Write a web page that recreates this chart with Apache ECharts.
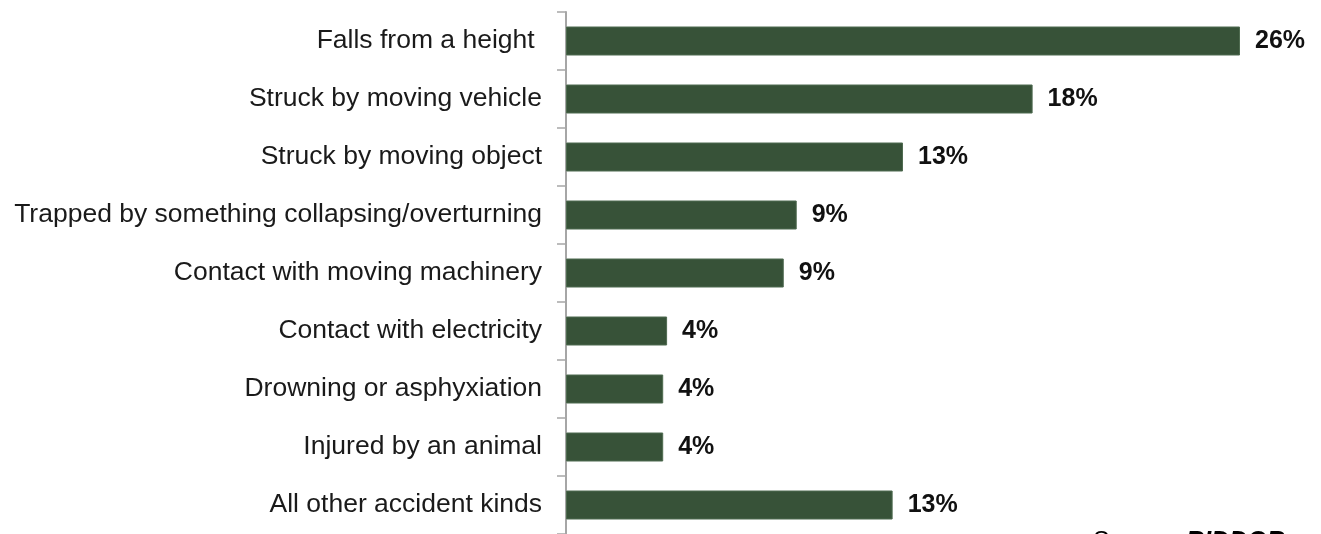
<!DOCTYPE html>
<html>
<head>
<meta charset="utf-8">
<script src="https://cdn.jsdelivr.net/npm/echarts@6/dist/echarts.min.js"></script>
<style>
html,body{margin:0;padding:0;background:#fff;}
#c{width:1321px;height:534px;}
</style>
</head>
<body>
<div id="c"></div>
<script>
var categories = [
  "Falls from a height ",
  "Struck by moving vehicle",
  "Struck by moving object",
  "Trapped by something collapsing/overturning",
  "Contact with moving machinery",
  "Contact with electricity",
  "Drowning or asphyxiation",
  "Injured by an animal",
  "All other accident kinds"
];
var values = [26.0, 18.0, 13.0, 8.9, 8.4, 3.9, 3.75, 3.75, 12.6];
var valueLabels = ["26%", "18%", "13%", "9%", "9%", "4%", "4%", "4%", "13%"];
var sourceText = "Source: ";
var sourceName = "RIDDOR";

var chart = echarts.init(document.getElementById('c'), null, {renderer: 'canvas'});
chart.setOption({
  animation: false,
  backgroundColor: '#ffffff',
  grid: {left: 566, top: 12, width: 674, height: 525, containLabel: false},
  xAxis: {
    type: 'value', min: 0, max: 26, show: false
  },
  yAxis: {
    type: 'category',
    data: categories,
    inverse: true,
    axisLine: {show: true, lineStyle: {color: '#a6a6a6', width: 2}},
    axisTick: {show: true, length: 9, lineStyle: {color: '#a6a6a6', width: 1.5}},
    axisLabel: {
      margin: 24,
      fontFamily: 'Liberation Sans, Arial, sans-serif',
      fontSize: 26.5,
      color: '#1a1a1a'
    },
    splitLine: {show: false}
  },
  series: [{
    type: 'bar',
    data: values,
    barWidth: 29,
    itemStyle: {color: '#375238', borderColor: '#4f6b50', borderWidth: 1},
    label: {
      show: true,
      position: 'right',
      distance: 15,
      fontFamily: 'Liberation Sans, Arial, sans-serif',
      fontSize: 25,
      fontWeight: 'bold',
      color: '#111111',
      formatter: function (p) { return valueLabels[p.dataIndex]; }
    }
  }],
  graphic: [{
    type: 'text',
    left: 1093,
    top: 530,
    style: {
      text: '{a|' + sourceText + '}{b|' + sourceName + '}',
      rich: {
        a: {fontFamily: 'Liberation Sans, Arial, sans-serif', fontSize: 25, color: '#111'},
        b: {fontFamily: 'Liberation Sans, Arial, sans-serif', fontSize: 25, fontWeight: 'bold', fontStyle: 'italic', color: '#111'}
      }
    }
  }]
});
</script>
</body>
</html>
